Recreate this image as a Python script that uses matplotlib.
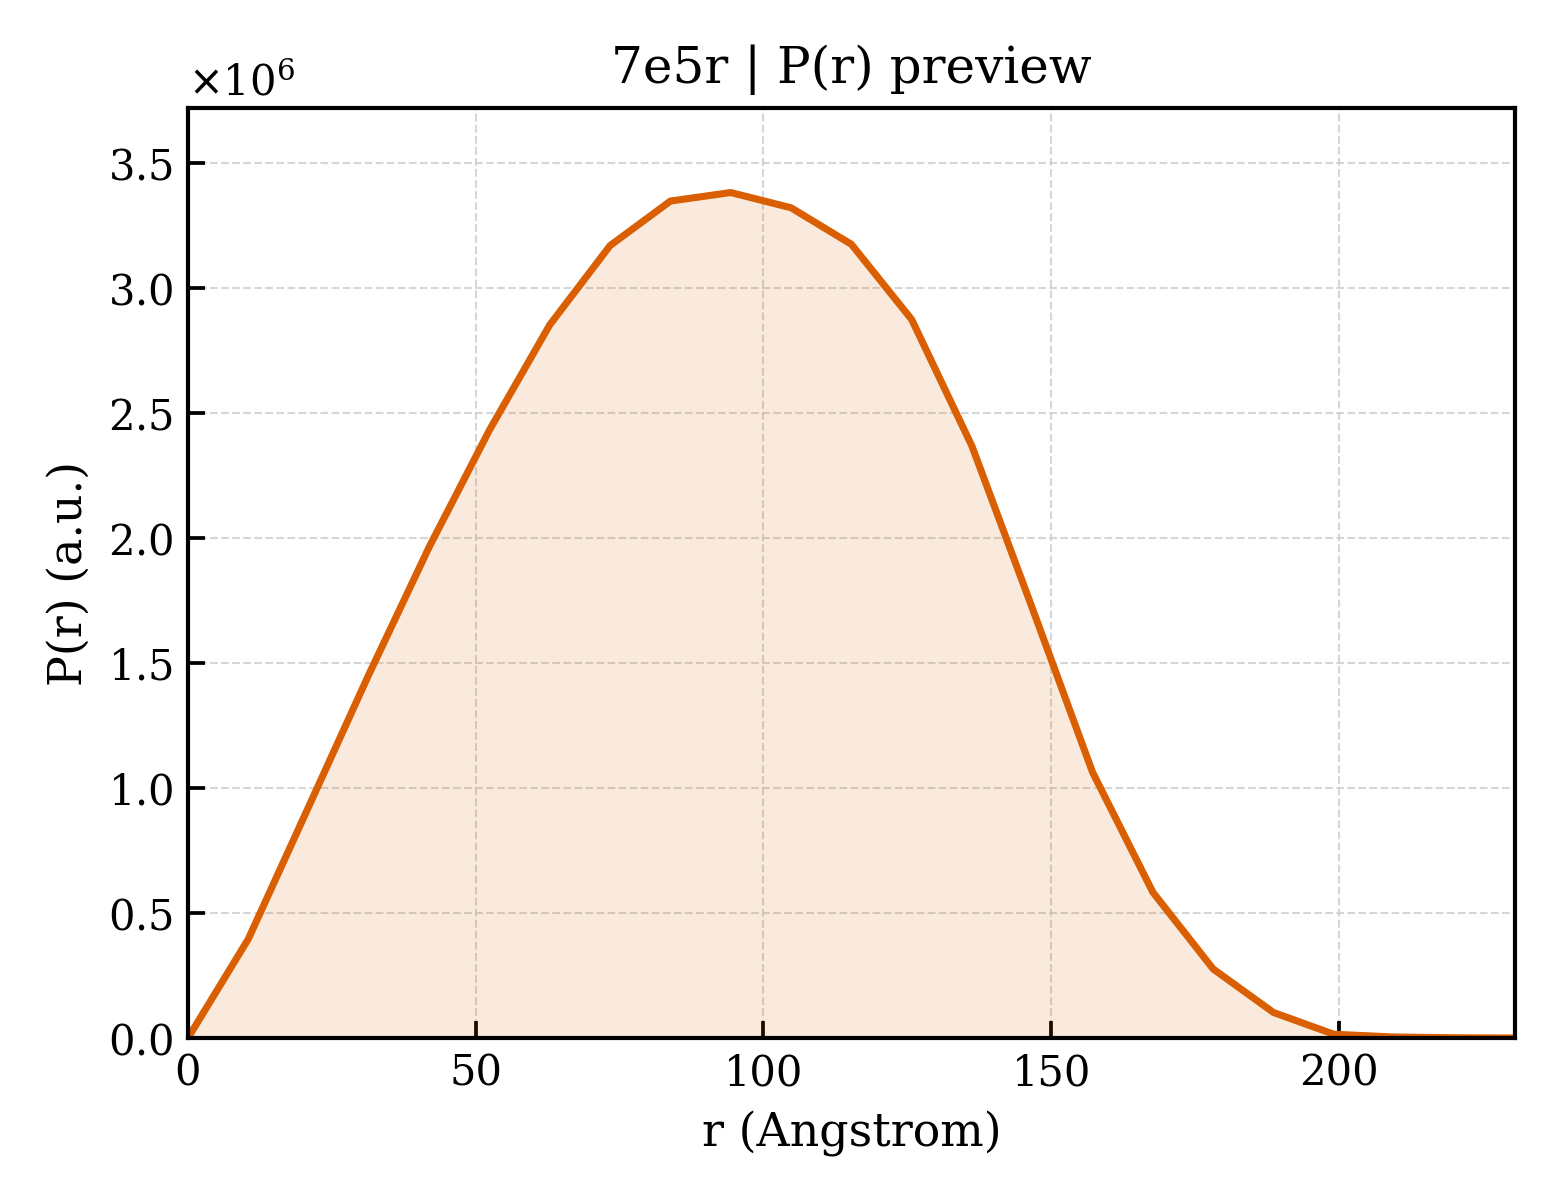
import matplotlib
matplotlib.use("Agg")
import matplotlib.pyplot as plt

# P(r) preview for 7e5r
r_vals = [0.0, 10.48, 20.96, 31.44, 41.92, 52.40, 62.88, 73.36, 83.84, 94.32,
          104.80, 115.28, 125.76, 136.24, 146.72, 157.20, 167.68, 178.16,
          188.64, 199.12, 209.60, 220.08, 230.56]
p_vals = [0.0, 0.396, 0.925, 1.455, 1.965, 2.433, 2.854, 3.171, 3.349, 3.383,
          3.322, 3.176, 2.875, 2.368, 1.72, 1.063, 0.583, 0.276,
          0.102, 0.015, 0.004, 0.001, 0.0]
p_vals = [v * 1e6 for v in p_vals]

plt.rcParams['font.family'] = 'DejaVu Serif'

fig, ax = plt.subplots(figsize=(5.2, 4), dpi=300)
ax.fill_between(r_vals, p_vals, color='#d95f02', alpha=0.13, linewidth=0)
ax.plot(r_vals, p_vals, color='#d95f02', linewidth=1.7)

ax.set_xlim(0, r_vals[-1])
ax.set_ylim(0, max(p_vals) * 1.1)
ax.set_xlabel('r (Angstrom)', fontsize=11)
ax.set_ylabel('P(r) (a.u.)', fontsize=11)
ax.set_title('7e5r | P(r) preview', fontsize=12)
ax.ticklabel_format(axis='y', style='sci', scilimits=(0, 0), useMathText=True)
ax.tick_params(direction='in', length=4, width=0.9, labelsize=10)
ax.yaxis.get_offset_text().set_fontsize(10)
for s in ax.spines.values():
    s.set_linewidth(1.0)
ax.grid(True, linestyle='--', linewidth=0.5, color='#cccccc', alpha=0.8)
ax.set_axisbelow(True)

fig.subplots_adjust(left=0.1205, right=0.971, bottom=0.135, top=0.91)
fig.savefig('out.png', dpi=300)
plt.close(fig)
